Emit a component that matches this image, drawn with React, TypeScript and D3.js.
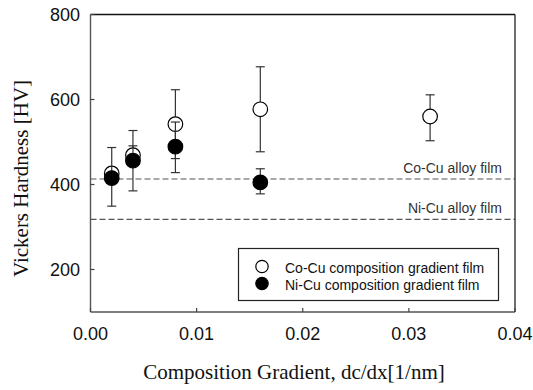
import * as d3 from 'd3';

/* ── data ── */
const coX = [0.002, 0.004, 0.008, 0.016, 0.032];
const coHV = [426, 469, 542, 577, 560];
const coLo = [412, 447, 461, 477, 503];
const coHi = [440, 491, 623, 677, 611];

const niX = [0.002, 0.004, 0.008, 0.016];
const niHV = [415, 456, 489, 405];
const niLo = [349, 385, 428, 378];
const niHi = [487, 527, 547, 437];

const alloyNames = ['Co-Cu alloy film', 'Ni-Cu alloy film'];
const alloyHV = [413, 318];

const xTicks = [0, 0.01, 0.02, 0.03, 0.04];
const yTicks = [200, 400, 600, 800];
const legendNames = ['Co-Cu composition gradient film', 'Ni-Cu composition gradient film'];

const W = 533, H = 390;
const L = 90.5, R = 515, T = 14.5, B = 312;
const SANS = '"Liberation Sans", Arial, sans-serif';
const SERIF = '"Liberation Serif", "Times New Roman", serif';

export default function App() {
  const x = d3.scaleLinear().domain([0, 0.04]).range([L, R]);
  const y = d3.scaleLinear().domain([100, 800]).range([B, T]);
  const r = 7.3;
  const cap = 4.5;

  const errBars = (xs: number[], lo: number[], hi: number[], key: string) =>
    xs.map((v, i) => (
      <g key={key + i} stroke="#333" strokeWidth={1.2}>
        <line x1={x(v)} x2={x(v)} y1={y(lo[i])} y2={y(hi[i])} />
        <line x1={x(v) - cap} x2={x(v) + cap} y1={y(lo[i])} y2={y(lo[i])} />
        <line x1={x(v) - cap} x2={x(v) + cap} y1={y(hi[i])} y2={y(hi[i])} />
      </g>
    ));

  return (
    <svg width={W} height={H} style={{ position: 'absolute', left: 0, top: 0 }}>
      <rect width={W} height={H} fill="#fff" />

      {/* alloy reference lines */}
      {alloyHV.map((v, i) => (
        <g key={'al' + i}>
          <line x1={L} x2={R} y1={y(v)} y2={y(v)} stroke="#555" strokeWidth={1.2} strokeDasharray="6,3" />
          <text x={502} y={y(v) - 6} textAnchor="end" fontFamily={SANS} fontSize={14} fill="#333">
            {alloyNames[i]}
          </text>
        </g>
      ))}

      {/* frame */}
      <line x1={L} x2={R} y1={T} y2={T} stroke="#111" strokeWidth={1.3} />
      <line x1={R} x2={R} y1={T} y2={B} stroke="#222" strokeWidth={1.3} />
      <line x1={L} x2={L} y1={T} y2={B} stroke="#555" strokeWidth={1.4} />
      <line x1={L} x2={R} y1={B} y2={B} stroke="#555" strokeWidth={1.4} />

      {/* y ticks */}
      {yTicks.map(t => (
        <g key={'y' + t}>
          <line x1={L} x2={L + 4} y1={y(t)} y2={y(t)} stroke="#444" strokeWidth={1.2} />
          <text x={80} y={y(t)} dy="0.35em" textAnchor="end" fontFamily={SANS} fontSize={18} fill="#111">
            {t}
          </text>
        </g>
      ))}

      {/* x ticks */}
      {xTicks.map(t => (
        <g key={'x' + t}>
          <line x1={x(t)} x2={x(t)} y1={B} y2={B - 4} stroke="#444" strokeWidth={1.2} />
          <text x={x(t)} y={340} textAnchor="middle" fontFamily={SANS} fontSize={18} fill="#111">
            {t.toFixed(2)}
          </text>
        </g>
      ))}

      {/* Co-Cu series (open) */}
      {errBars(coX, coLo, coHi, 'ce')}
      {coX.map((v, i) => (
        <circle key={'c' + i} cx={x(v)} cy={y(coHV[i])} r={r} fill="#fff" stroke="#000" strokeWidth={1.2} />
      ))}

      {/* Ni-Cu series (filled) */}
      {errBars(niX, niLo, niHi, 'ne')}
      {niX.map((v, i) => (
        <circle key={'n' + i} cx={x(v)} cy={y(niHV[i])} r={r} fill="#000" stroke="#000" strokeWidth={1.2} />
      ))}

      {/* legend */}
      <rect x={238.5} y={248.5} width={260} height={52} fill="#fff" stroke="#222" strokeWidth={1.2} />
      {legendNames.map((name, i) => (
        <g key={'lg' + i}>
          <circle cx={262} cy={266.5 + i * 17} r={6.2} fill={i === 0 ? '#fff' : '#000'} stroke="#000" strokeWidth={1.2} />
          <text x={285} y={272.5 + i * 17} fontFamily={SANS} fontSize={14} fill="#111">
            {name}
          </text>
        </g>
      ))}

      {/* axis titles */}
      <text x={294} y={379} textAnchor="middle" fontFamily={SERIF} fontSize={21} fill="#111">
        Composition Gradient, dc/dx[1/nm]
      </text>
      <text transform={`translate(28,${178.5}) rotate(-90)`} textAnchor="middle" fontFamily={SERIF} fontSize={21} fill="#111">
        Vickers Hardness [HV]
      </text>
    </svg>
  );
}
